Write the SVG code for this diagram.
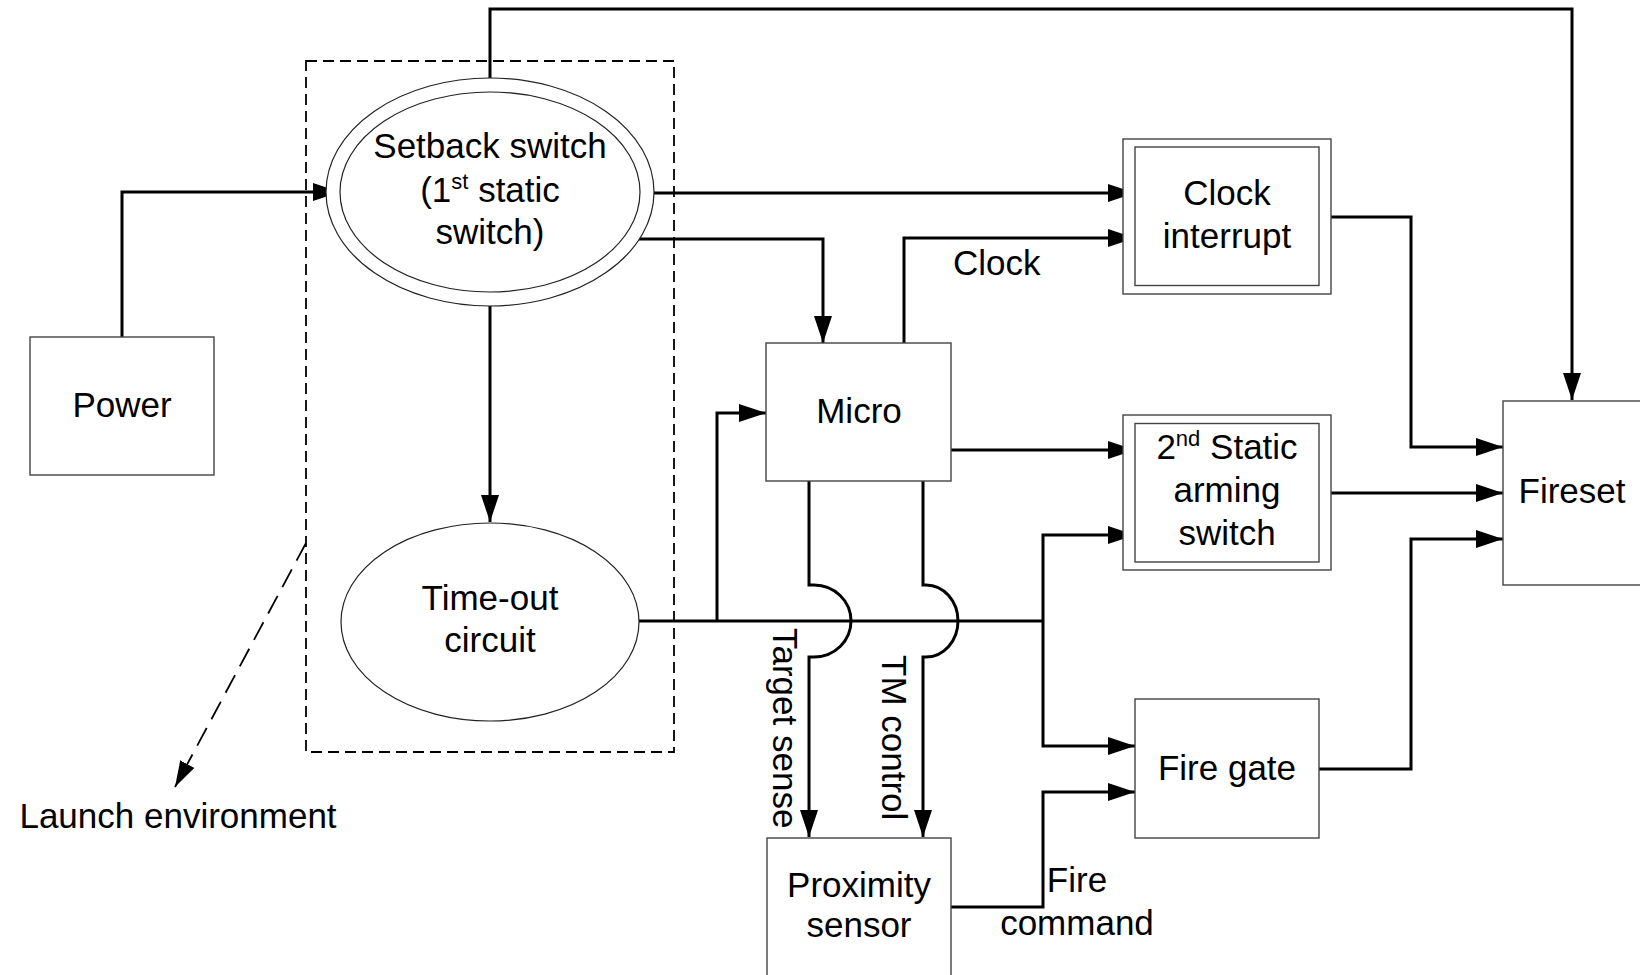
<svg xmlns="http://www.w3.org/2000/svg" width="1640" height="975" viewBox="0 0 1640 975">
<style>
text{font-family:"Liberation Sans",Arial,sans-serif;font-size:35px;fill:#000}
.c{text-anchor:middle}
.box{fill:#fff;stroke:#444;stroke-width:1.4}
.ell{fill:#fff;stroke:#222;stroke-width:1.2}
.ln{fill:none;stroke:#000;stroke-width:3}
.arr{marker-end:url(#ah)}
.sup{font-size:22px}
</style>
<defs>
<marker id="ah" markerUnits="userSpaceOnUse" viewBox="0 0 27 18" markerWidth="27" markerHeight="18" refX="27" refY="9" orient="auto">
<path d="M0,0 L27,9 L0,18 z" fill="#000"/>
</marker>
<marker id="ahd" markerUnits="userSpaceOnUse" viewBox="0 0 26 16" markerWidth="26" markerHeight="16" refX="26" refY="8" orient="auto">
<path d="M0,0 L26,8 L0,16 z" fill="#000"/>
</marker>
</defs>
<rect width="1640" height="975" fill="#fff"/>

<g id="launch-env">
<rect x="306" y="61" width="368" height="691" fill="none" stroke="#000" stroke-width="1.8" stroke-dasharray="11 6"/>
<line x1="306" y1="543" x2="175" y2="787" stroke="#000" stroke-width="1.8" stroke-dasharray="20 10" marker-end="url(#ahd)"/>
<text class="c" x="178" y="828">Launch environment</text>
</g>

<g id="connectors">
<path class="ln arr" d="M122,337 V192 H340"/>
<path class="ln arr" d="M490,92 V9 H1572 V400"/>
<path class="ln arr" d="M640,193 H1135"/>
<path class="ln arr" d="M621,239 H823 V343"/>
<path class="ln arr" d="M490,292 V522"/>
<path class="ln arr" d="M904,343 V238 H1135"/>
<path class="ln arr" d="M951,450 H1135"/>
<path class="ln" d="M639,621 H1043"/>
<path class="ln arr" d="M717,621 V413 H766"/>
<path class="ln arr" d="M1043,621 V535 H1135"/>
<path class="ln arr" d="M1043,621 V746 H1135"/>
<path class="ln arr" d="M809,481 V585 H814 A37,36 0 0 1 814,657 H809 V837"/>
<path class="ln arr" d="M923,481 V585 H926 A32,36 0 0 1 926,657 H923 V837"/>
<path class="ln arr" d="M951,907 H1043 V792 H1135"/>
<path class="ln arr" d="M1319,217 H1411 V447 H1503"/>
<path class="ln arr" d="M1319,493 H1503"/>
<path class="ln arr" d="M1319,769 H1411 V539 H1503"/>
<text x="953" y="275">Clock</text>
<text transform="translate(773,628) rotate(90)">Target sense</text>
<text transform="translate(882,655) rotate(90)">TM control</text>
<text class="c" x="1077" y="892">Fire</text>
<text class="c" x="1077" y="935">command</text>
</g>

<g id="power">
<rect class="box" x="30" y="337" width="184" height="138"/>
<text class="c" x="122" y="417">Power</text>
</g>

<g id="setback">
<ellipse class="ell" cx="490" cy="192" rx="164" ry="114"/>
<ellipse class="ell" cx="490" cy="192" rx="150" ry="100"/>
<text class="c" x="490" y="158">Setback switch</text>
<text class="c" x="490" y="202">(1<tspan class="sup" dy="-13">st</tspan><tspan dy="13"> static</tspan></text>
<text class="c" x="490" y="244">switch)</text>
</g>

<g id="timeout">
<ellipse class="ell" cx="490" cy="622" rx="149" ry="99"/>
<text class="c" x="490" y="610">Time-out</text>
<text class="c" x="490" y="652">circuit</text>
</g>

<g id="micro">
<rect class="box" x="766" y="343" width="185" height="138"/>
<text class="c" x="859" y="423">Micro</text>
</g>

<g id="clock-interrupt">
<rect class="box" x="1123" y="139" width="208" height="155"/>
<rect class="box" x="1135" y="147" width="184" height="138.5"/>
<text class="c" x="1227" y="205">Clock</text>
<text class="c" x="1227" y="248">interrupt</text>
</g>

<g id="static-arming">
<rect class="box" x="1123" y="415" width="208" height="155"/>
<rect class="box" x="1135" y="423.5" width="184" height="138.5"/>
<text class="c" x="1227" y="459">2<tspan class="sup" dy="-13">nd</tspan><tspan dy="13"> Static</tspan></text>
<text class="c" x="1227" y="502">arming</text>
<text class="c" x="1227" y="545">switch</text>
</g>

<g id="fireset">
<rect class="box" x="1503" y="401" width="140" height="184"/>
<text class="c" x="1572" y="503">Fireset</text>
</g>

<g id="fire-gate">
<rect class="box" x="1135" y="699" width="184" height="139"/>
<text class="c" x="1227" y="780">Fire gate</text>
</g>

<g id="proximity">
<rect class="box" x="767" y="838" width="184" height="150"/>
<text class="c" x="859" y="897">Proximity</text>
<text class="c" x="859" y="937">sensor</text>
</g>
</svg>
